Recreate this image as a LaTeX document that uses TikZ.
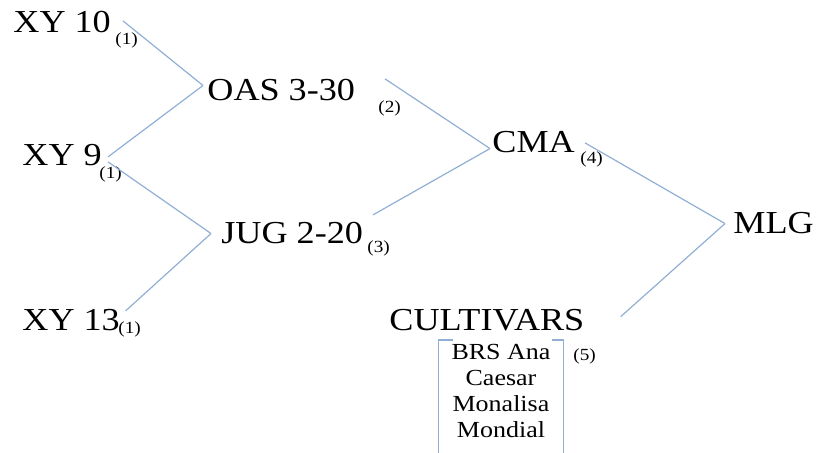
\documentclass[tikz,border=0pt]{standalone}
\usepackage{fontspec}
\setmainfont{Liberation Serif}[FakeStretch=1.13]
\usetikzlibrary{positioning}
\definecolor{linkblue}{RGB}{145,175,212}
\tikzset{
  lbl/.style={inner sep=0pt, anchor=base west, font=\fontsize{16pt}{19pt}\selectfont},
  idx/.style={inner sep=0pt, anchor=west, font=\fontsize{8.5pt}{10pt}\selectfont},
  link/.style={draw=linkblue, line width=0.6pt},
}
\begin{document}
\begin{tikzpicture}[x=0.5pt,y=-0.5pt]
    \useasboundingbox (0,0) rectangle (816,453);
    % parents
    \node[lbl] (xy10) at (13,33) {XY 10};
    \node[idx] (xy10sub) at (115,40) {(1)};
    \node[lbl] (xy9) at (22,166) {XY 9};
    \node[idx] (xy9sub) at (99,174) {(1)};
    \node[lbl] (xy13) at (22,331) {XY 13};
    \node[idx] (xy13sub) at (118,329) {(1)};
    % hybrids
    \node[lbl] (oas) at (207,101) {OAS 3-30};
    \node[idx] (oassub) at (378,108) {(2)};
    \node[lbl] (jug) at (221,244) {JUG 2-20};
    \node[idx] (jugsub) at (367,248) {(3)};
    \node[lbl] (cma) at (492,153) {CMA};
    \node[idx] (cmasub) at (580,159) {(4)};
    \node[lbl] (mlg) at (733,234) {MLG};
    % cultivars
    \node[lbl] (cult) at (389,331) {CULTIVARS};
    \node[inner xsep=0pt, inner ysep=2pt, anchor=north, minimum width=62pt, align=center,
          font=\fontsize{11.5pt}{13pt}\selectfont] (list) at (501,340) {BRS Ana\\Caesar\\Monalisa\\Mondial};
    \node[idx] (listsub) at (573,356) {(5)};
    \coordinate (bot) at (0,453);
    \draw[link] ([xshift=7pt]list.north west) -- (list.north west) -- (list.north west |- bot);
    \draw[link] ([xshift=-5.5pt]list.north east) -- (list.north east) -- (list.north east |- bot);
    % crosses
    \draw[link] ([xshift=4pt,yshift=5.5pt]xy10sub.north west) -- ([xshift=-2pt,yshift=2.5pt]oas.west);
    \draw[link] ([xshift=4.5pt,yshift=4.5pt]xy9sub.north west) -- ([xshift=-2pt,yshift=2.5pt]oas.west);
    \draw[link] ([xshift=4.5pt,yshift=2pt]xy9sub.north west) -- ([xshift=-5pt]jug.west);
    \draw[link] ([xshift=-2pt,yshift=5pt]xy13sub.north) -- ([xshift=-5pt]jug.west);
    \draw[link] ([xshift=3.5pt,yshift=10.5pt]oassub.north west) -- ([xshift=-1pt,yshift=-3pt]cma.west);
    \draw[link] ([xshift=3pt,yshift=12.5pt]jugsub.north west) -- ([xshift=-1pt,yshift=-3pt]cma.west);
    \draw[link] ([xshift=2.5pt,yshift=4pt]cmasub.north west) -- ([xshift=-4pt]mlg.west);
    \draw[link] ([xshift=18pt,yshift=2pt]cult.east) -- ([xshift=-4pt]mlg.west);
\end{tikzpicture}
\end{document}
